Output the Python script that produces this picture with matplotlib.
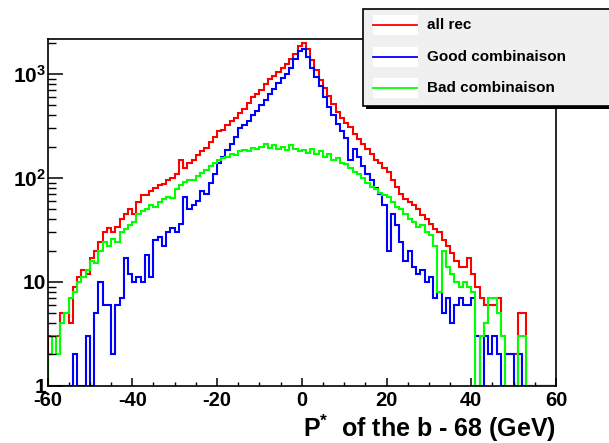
import numpy as np
import matplotlib
matplotlib.use("Agg")
import matplotlib.pyplot as plt
from matplotlib.patches import Rectangle
from matplotlib.lines import Line2D
from matplotlib.ticker import LogLocator, FixedLocator, NullFormatter, MultipleLocator

plt.rcParams['font.family'] = ['Liberation Sans', 'DejaVu Sans']
plt.rcParams['font.weight'] = 'bold'
plt.rcParams['axes.unicode_minus'] = False
plt.rcParams['mathtext.fontset'] = 'custom'
plt.rcParams['mathtext.rm'] = 'Liberation Sans:bold'
plt.rcParams['mathtext.it'] = 'Liberation Sans:bold'
plt.rcParams['mathtext.bf'] = 'Liberation Sans:bold'

# P* - 68 GeV, 1 GeV bins from -60 to 60
bin_lo, bin_hi = -60, 60

# all rec
all_rec = [3, 3, 3, 5, 5, 4, 9, 11, 13, 12,
           17, 20, 24, 30, 33, 30, 34, 40, 45, 50,
           45, 58, 68, 68, 75, 80, 85, 88, 95, 100,
           110, 150, 125, 140, 150, 165, 180, 195, 220, 250,
           280, 290, 320, 350, 380, 420, 460, 530, 600, 640,
           700, 800, 900, 950, 1050, 1150, 1250, 1400, 1550, 1850,
           2000, 1750, 1350, 1080, 880, 740, 620, 510, 430, 380,
           340, 310, 265, 235, 210, 190, 170, 150, 140, 125,
           115, 95, 82, 70, 62, 58, 55, 50, 44, 40,
           36, 32, 30, 25, 22, 19, 16, 14, 14, 17,
           12, 9, 7, 6, 6, 6, 7, 3, 2, 2,
           2, 5, 5, 0, 0, 0, 0, 0, 0, 0]

# Good combinaison
good = [0, 0, 0, 0, 0, 0, 2, 0, 0, 3,
        0, 5, 10, 6, 6, 2, 6, 7, 17, 12,
        10, 11, 10, 18, 11, 25, 27, 22, 30, 33,
        30, 36, 65, 50, 55, 60, 75, 70, 90, 110,
        140, 160, 185, 210, 250, 300, 320, 350, 400, 440,
        500, 560, 640, 720, 820, 920, 1000, 1150, 1380, 1650,
        1750, 1450, 1150, 930, 760, 600, 480, 400, 330, 280,
        240, 150, 190, 160, 130, 110, 95, 80, 70, 55,
        20, 45, 35, 24, 16, 20, 14, 12, 13, 10,
        11, 7, 8, 5, 7, 4, 6, 7, 6, 6,
        7, 3, 0, 3, 2, 3, 2, 0, 2, 2,
        0, 2, 0, 0, 0, 0, 0, 0, 0, 0]

# Bad combinaison
bad = [2, 3, 2, 4, 5, 7, 8, 10, 11, 13,
       16, 15, 20, 24, 22, 26, 24, 30, 32, 35,
       38, 45, 48, 50, 55, 52, 58, 62, 66, 64,
       78, 85, 92, 96, 95, 105, 112, 120, 130, 140,
       150, 155, 160, 170, 165, 180, 185, 180, 195, 190,
       200, 210, 195, 205, 190, 200, 185, 205, 190, 180,
       185, 175, 190, 170, 180, 160, 170, 150, 155, 140,
       135, 125, 115, 108, 100, 90, 82, 78, 72, 68,
       65, 58, 52, 50, 45, 40, 38, 34, 35, 30,
       28, 22, 8, 20, 14, 12, 10, 9, 10, 9,
       8, 0, 3, 4, 7, 7, 5, 3, 0, 0,
       0, 3, 3, 0, 0, 0, 0, 0, 0, 0]

labels = ["all rec", "Good combinaison", "Bad combinaison"]
colors = ["#ff0000", "#0000ff", "#00ff00"]
ytick_vals = [1, 10, 100, 1000]
ytick_text = ['1', '10', '10$^{2}$', '10$^{3}$']

edges = np.arange(bin_lo, bin_hi + 1, 1)

fig = plt.figure(figsize=(6.09, 4.43), dpi=100)
W, H = 609, 443
ax = fig.add_axes([47.5 / W, 1 - 385.7 / H, (556 - 47.5) / W, (385.7 - 39) / H])

# red first so blue/green sit on top
for vals, col in zip([all_rec, good, bad], colors):
    v = np.clip(np.array(vals, dtype=float), 1, None)  # empty bins drawn at the floor like ROOT
    ax.stairs(v, edges, baseline=1, color=col, lw=1.5)

ax.set_yscale('log')
ax.set_xlim(bin_lo, bin_hi)
ax.set_ylim(1, 2170)

ax.yaxis.set_major_locator(FixedLocator(ytick_vals))
ax.set_yticklabels(ytick_text)
ax.yaxis.set_minor_locator(LogLocator(base=10, subs=np.arange(2, 10)))
ax.yaxis.set_minor_formatter(NullFormatter())
ax.xaxis.set_major_locator(MultipleLocator(20))
ax.xaxis.set_minor_locator(MultipleLocator(5))

ax.tick_params(axis='y', which='major', direction='in', length=11, width=1.1,
               labelsize=15, pad=1)
ax.tick_params(axis='y', which='minor', direction='in', length=6, width=1.0)
ax.tick_params(axis='x', which='major', direction='in', length=6, width=1.1,
               labelsize=14.5, pad=4)
ax.tick_params(axis='x', which='minor', direction='in', length=3, width=1.0)
for s in ax.spines.values():
    s.set_linewidth(1.2)

fig.text(556 / W, 1 - 437 / H, 'P$^{*}$  of the b - 68 (GeV)', ha='right', va='baseline',
         fontsize=18, fontweight='bold')

# ROOT style legend box with shadow, sticking out past the right edge
lx0, ly0, lx1, ly1 = 363, 9, 625, 106
sh = 3
fig.patches.append(Rectangle(((lx0 + sh) / W, 1 - (ly1 + sh) / H), (lx1 - lx0) / W, (ly1 - ly0) / H,
                             transform=fig.transFigure, facecolor='black', edgecolor='none', zorder=5))
fig.patches.append(Rectangle((lx0 / W, 1 - ly1 / H), (lx1 - lx0) / W, (ly1 - ly0) / H,
                             transform=fig.transFigure, facecolor='#f0f0f0', edgecolor='black',
                             lw=1.2, zorder=6))
rows = [25, 57, 88]
for lab, col, yy in zip(labels, colors, rows):
    fig.patches.append(Rectangle((373 / W, 1 - (yy + 10) / H), 45 / W, 20 / H,
                                 transform=fig.transFigure, facecolor='white', edgecolor='none', zorder=7))
    fig.lines.append(Line2D([373 / W, 417 / W], [1 - yy / H, 1 - yy / H], transform=fig.transFigure,
                            color=col, lw=1.3, zorder=8))
    fig.text(427 / W, 1 - yy / H, lab, ha='left', va='center', fontsize=11,
             fontweight='bold', zorder=9)

fig.savefig('out.png', dpi=100)
